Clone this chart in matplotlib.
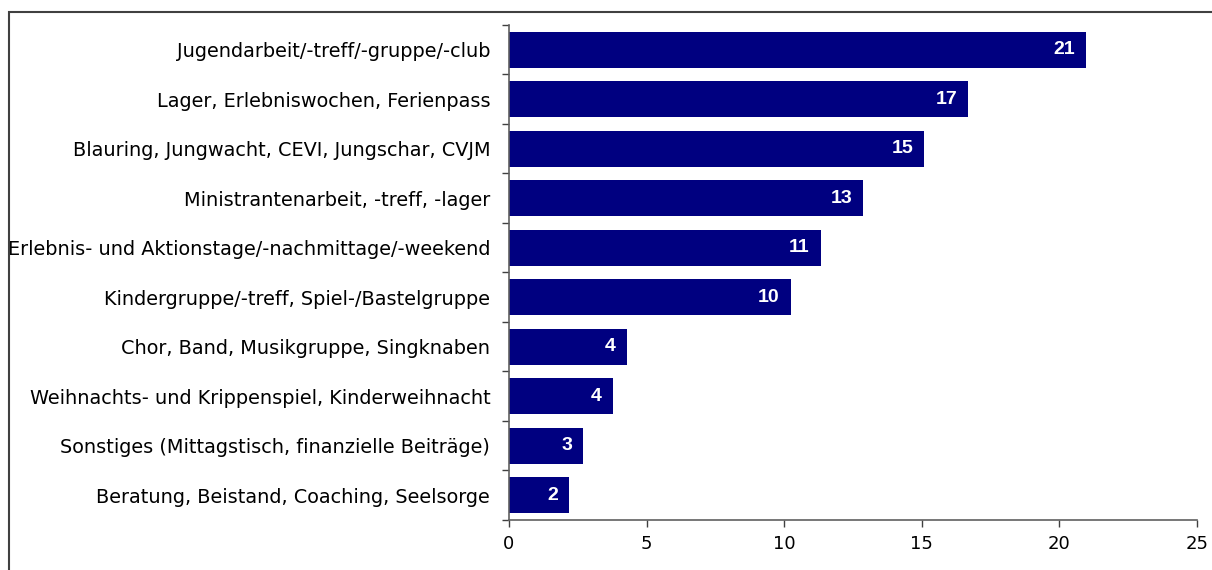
import matplotlib
matplotlib.use("Agg")
import matplotlib.pyplot as plt
from matplotlib.patches import Rectangle
import numpy as np

# Kategorien (von oben nach unten) und Werte
kategorien = [
    "Jugendarbeit/-treff/-gruppe/-club",
    "Lager, Erlebniswochen, Ferienpass",
    "Blauring, Jungwacht, CEVI, Jungschar, CVJM",
    "Ministrantenarbeit, -treff, -lager",
    "Erlebnis- und Aktionstage/-nachmittage/-weekend",
    "Kindergruppe/-treff, Spiel-/Bastelgruppe",
    "Chor, Band, Musikgruppe, Singknaben",
    "Weihnachts- und Krippenspiel, Kinderweihnacht",
    "Sonstiges (Mittagstisch, finanzielle Beiträge)",
    "Beratung, Beistand, Coaching, Seelsorge",
]
werte = [20.97, 16.69, 15.09, 12.88, 11.32, 10.23, 4.28, 3.77, 2.69, 2.18]
xticks = [0, 5, 10, 15, 20, 25]

plt.rcParams['font.family'] = ['DejaVu Sans']

fig = plt.figure(figsize=(12.12, 5.70), dpi=100)
ax = fig.add_axes([509/1212, 1-520/570, (1197-509)/1212, (520-25)/570])

# Rahmen um das Diagramm
fig.patches.append(Rectangle((9/1212, -0.1), 1.2, 1.1 - 12/570,
                             transform=fig.transFigure, fill=False,
                             edgecolor='#404040', linewidth=1.5))

y = np.arange(len(kategorien))
ax.barh(y, werte, height=0.73, color='#000080')

for i, v in enumerate(werte):
    ax.annotate(str(int(round(v))), xy=(v, i), xytext=(-8, 0),
                textcoords='offset points', ha='right', va='center',
                color='white', fontweight='bold', fontsize=14,
                family=['Liberation Sans', 'DejaVu Sans'])

ax.set_ylim(len(kategorien) - 0.5, -0.5)
ax.set_xlim(0, 25)
ax.set_xticks(xticks)
ax.set_yticks(y)
ax.set_yticklabels(kategorien, fontsize=13.9, va='center_baseline')
ax.set_yticks(np.arange(-0.5, len(kategorien)), minor=True)
ax.tick_params(axis='y', which='major', length=0, pad=13.5)
ax.tick_params(axis='y', which='minor', length=5, width=1, color='#404040')
ax.tick_params(axis='x', length=5, width=1, color='#404040', labelsize=13, pad=6)

ax.spines['top'].set_visible(False)
ax.spines['right'].set_visible(False)
ax.spines['left'].set_color('#606060')
ax.spines['bottom'].set_color('#606060')
ax.spines['left'].set_linewidth(1.2)
ax.spines['bottom'].set_linewidth(1.2)

fig.savefig("out.png", dpi=100)
